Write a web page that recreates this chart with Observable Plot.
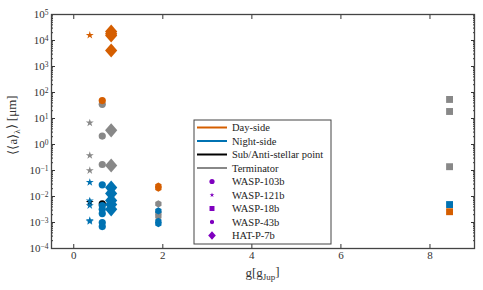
<!DOCTYPE html>
<html><head><meta charset="utf-8">
<script src="https://cdn.jsdelivr.net/npm/d3@7"></script>
<script src="https://cdn.jsdelivr.net/npm/@observablehq/plot@0.6"></script>
<style>body{margin:0;background:#fff} svg{font-family:"Liberation Serif",serif}</style>
</head><body><div id="chart"></div>
<script>
const planets = ["WASP-103b","WASP-121b","WASP-18b","WASP-43b","HAT-P-7b"];
const gravity = [0.64, 0.36, 8.44, 1.9, 0.84];
const regions = ["Day-side","Night-side","Sub/Anti-stellar point","Terminator"];
const regionColors = ["#d55e00","#0072b2","#000000","#888888"];
const daySide = [[49],[16000],[0.0026],[0.025,0.021],[22000,18000,15500,4100]];
const nightSide = [[0.028,0.0045,0.0032,0.0022,0.001,0.0007],[0.035,0.0068,0.0045,0.0012,0.0011],[0.0049],[0.0028,0.0011,0.0009],[0.022,0.013,0.007,0.0049,0.0032]];
const subStellar = [[0.0052],[0.006],[],[],[]];
const terminator = [[35,2.1,0.17],[6.8,0.38,0.1],[54,18.6,0.14],[0.0052,0.0023,0.0017],[3.5,0.155]];
const yExponents = [-4,-3,-2,-1,0,1,2,3,4,5];
const xTicks = [0,2,4,6,8];

const hexagon = {draw(ctx, size){ const r = Math.sqrt(2*size/(3*Math.sqrt(3)));
  for (let i=0;i<6;i++){ const a = Math.PI/2 + i*Math.PI/3; const x=r*Math.cos(a), y=-r*Math.sin(a); i?ctx.lineTo(x,y):ctx.moveTo(x,y);} ctx.closePath(); }};
const diamond = {draw(ctx, size){ const w = Math.sqrt(size/1.15), h = w*1.15;
  ctx.moveTo(0,-h); ctx.lineTo(w,0); ctx.lineTo(0,h); ctx.lineTo(-w,0); ctx.closePath(); }};
const planetSymbols = [d3.symbolCircle, d3.symbolStar, d3.symbolSquare, hexagon, diamond];
const planetR = [3.6, 2.5, 3.9, 3.3, 3.7];

const yTicks = yExponents.map(e => Math.pow(10, e));
const minorTicks = [];
for (let e = -4; e < 5; e++) for (let k = 2; k < 10; k++) minorTicks.push(k*Math.pow(10,e));

const seriesByRegion = {"Day-side": daySide, "Night-side": nightSide, "Sub/Anti-stellar point": subStellar, "Terminator": terminator};
const drawOrder = ["Sub/Anti-stellar point","Terminator","Night-side","Day-side"];
const dotMarks = [];
for (const reg of drawOrder) {
  const color = regionColors[regions.indexOf(reg)];
  planets.forEach((p, i) => {
    const rows = seriesByRegion[reg][i].map(v => ({g: gravity[i], a: v}));
    if (rows.length) dotMarks.push(Plot.dot(rows, {x: "g", y: "a", fill: color, r: planetR[i], symbol: planetSymbols[i]}));
  });
}

const axisColor = "#333";
const svg = Plot.plot({
  width: 483, height: 290,
  marginLeft: 51, marginRight: 9, marginTop: 14, marginBottom: 42,
  style: {fontFamily: "Liberation Serif, serif", fontSize: "11px", color: axisColor, background: "#fff"},
  x: {domain: [-0.5, 9]},
  y: {type: "log", domain: [1e-4, 1e5]},
  marks: [
    ...dotMarks,
    Plot.axisY({anchor: "left", ticks: yTicks, tickSize: 4, dx: 4, tickFormat: () => "", label: null, stroke: axisColor}),
    Plot.axisY({anchor: "left", ticks: minorTicks, tickSize: 2, dx: 2, tickFormat: () => "", label: null, stroke: axisColor}),
    Plot.axisY({anchor: "right", ticks: yTicks, tickSize: 4, dx: -4, tickFormat: () => "", label: null, stroke: axisColor}),
    Plot.axisY({anchor: "right", ticks: minorTicks, tickSize: 2, dx: -2, tickFormat: () => "", label: null, stroke: axisColor}),
    Plot.axisY({anchor: "left", ticks: yTicks, tickSize: 0, tickPadding: 3, tickFormat: d => "E" + String(Math.round(Math.log10(d))), label: null, fill: axisColor}),
    Plot.axisX({anchor: "bottom", ticks: xTicks, tickSize: 4, dy: -4, tickFormat: () => "", label: null, stroke: axisColor}),
    Plot.axisX({anchor: "top", ticks: xTicks, tickSize: 4, dy: 4, tickFormat: () => "", label: null, stroke: axisColor}),
    Plot.axisX({anchor: "bottom", ticks: xTicks, tickSize: 0, tickPadding: 3, label: null, fill: axisColor}),
    Plot.frame({stroke: "#444", strokeWidth: 1.3})
  ]
});

const s = d3.select(svg);
// remove empty tick labels from tick-only axes
s.selectAll("text").filter(function() { return this.textContent === ""; }).remove();
// superscript exponents on y tick labels
s.selectAll("text").filter(function() { return this.textContent.startsWith("E"); }).each(function() {
  const t = d3.select(this); const e = t.text().slice(1).replace("-", "\u2212"); t.text("");
  t.append("tspan").text("10");
  t.append("tspan").attr("dy", "-0.45em").attr("font-size", "7.5px").text(e);
});

// axis labels
const xl = s.append("text").attr("x", 262.5).attr("y", 277).attr("text-anchor", "middle").attr("font-size", "13px").attr("fill", axisColor);
xl.append("tspan").text("g[g");
xl.append("tspan").attr("font-size", "9px").attr("dy", "0.3em").text("Jup");
xl.append("tspan").attr("dy", "-0.3em").text("]");
const yl = s.append("text").attr("transform", "translate(17,125) rotate(-90)").attr("text-anchor", "middle").attr("font-size", "13px").attr("fill", axisColor);
yl.append("tspan").text("\u27E8\u27E8a\u27E9");
yl.append("tspan").attr("font-size", "9px").attr("dy", "0.3em").text("\u03BB");
yl.append("tspan").attr("dy", "-0.3em").text("\u27E9 [\u03BCm]");

// legend
const lg = s.append("g").attr("font-size", "10.5px").attr("fill", "#222").attr("text-anchor", "start");
lg.append("rect").attr("x", 194).attr("y", 120).attr("width", 137).attr("height", 124).attr("fill", "#fff").attr("stroke", "#444").attr("stroke-width", 1);
const step = 13.5, y0 = 127.5;
regions.forEach((r, i) => {
  const y = y0 + i*step;
  lg.append("line").attr("x1", 197).attr("x2", 227).attr("y1", y).attr("y2", y).attr("stroke", regionColors[i]).attr("stroke-width", 2);
  lg.append("text").attr("x", 232).attr("y", y).attr("dy", "0.35em").text(r);
});
const legendR = [2.6, 1.5, 2.8, 2.1, 2.3];
planets.forEach((p, i) => {
  const y = y0 + (i+4)*step;
  lg.append("path").attr("transform", `translate(212,${y})`).attr("d", d3.symbol(planetSymbols[i], Math.PI*legendR[i]*legendR[i])()).attr("fill", "#7f00bf");
  lg.append("text").attr("x", 232).attr("y", y).attr("dy", "0.35em").text(p);
});

document.getElementById("chart").appendChild(svg);
</script></body></html>
